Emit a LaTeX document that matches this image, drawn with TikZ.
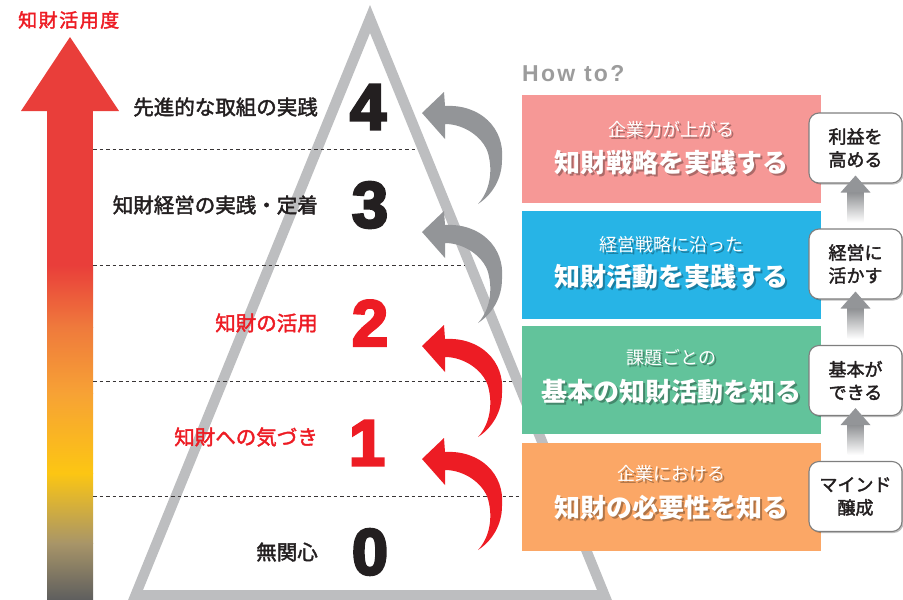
\documentclass[tikz,border=0pt]{standalone}
\usepackage{fontspec}
\setmainfont{Noto Sans CJK JP}
\newfontfamily\jpmed[FakeBold=2]{Noto Sans CJK JP}
\newfontfamily\jptitle[FakeBold=2,LetterSpace=8]{Noto Sans CJK JP}
\newfontfamily\numfont[BoldFeatures={FakeBold=4}]{Liberation Sans}
\newfontfamily\howfont[LetterSpace=10]{Liberation Sans}
\usetikzlibrary{calc,shadows}
\definecolor{tri}{HTML}{BDBEC0}
\definecolor{redA}{HTML}{ED1C24}
\definecolor{darkT}{HTML}{231F20}
\definecolor{arrG}{HTML}{939598}
\definecolor{pinkB}{HTML}{F69896}
\definecolor{blueB}{HTML}{27B4E6}
\definecolor{greenB}{HTML}{62C39B}
\definecolor{orangeB}{HTML}{FBA766}
\definecolor{howG}{HTML}{9C9C9C}
\definecolor{boxline}{HTML}{7F7F7F}
\definecolor{gA}{HTML}{E93E3A}
\definecolor{gB}{HTML}{EF7A3C}
\definecolor{gC}{HTML}{F7A235}
\definecolor{gD}{HTML}{FCC613}
\definecolor{gE}{HTML}{A89568}
\definecolor{gF}{HTML}{5E5E5E}
\newcommand\fsz[1]{\fontsize{#1}{#1}\selectfont}
\newcommand\curvedarrow[3]{%
  \begin{scope}[shift={(#2,#3)}]
    \fill[#1] (0,0) -- (22,-21) -- (23,-7)
      .. controls (58,-9) and (83,15) .. (80,47)
      .. controls (80,66) and (70,82) .. (56,91)
      .. controls (68,78) and (71,58) .. (66,40)
      .. controls (61,24) and (42,11) .. (23,11)
      -- (23,26) -- cycle;
  \end{scope}}
\newcommand\boxtext[4]{% name, x, y, content
  \node[btxt, text=black, opacity=0.3, xshift=1.6pt, yshift=-1.6pt] at (#2,#3) {#4};
  \node[btxt, text=white] (#1) at (#2,#3) {#4};}
\tikzset{
  lvl/.style={anchor=east, inner sep=0, font=\jpmed\fsz{20.5}},
  num/.style={inner sep=0, font=\numfont\bfseries\fsz{65}},
  btxt/.style={inner sep=0},
  bbox/.style={minimum width=299pt, minimum height=108pt, inner sep=0},
  sbox/.style={draw=boxline, fill=white, rounded corners=10pt, minimum width=93pt,
    minimum height=70pt, line width=1.1pt, align=center, inner sep=0,
    font=\jpmed\fontsize{18}{23}\selectfont, text=darkT,
    drop shadow={shadow xshift=1.5pt, shadow yshift=-1.5pt, fill=black, opacity=0.25}},
  dline/.style={line width=1pt, draw=darkT!90, dash pattern=on 3.5pt off 3pt},
}
\begin{document}
\begin{tikzpicture}[x=1pt,y=-1pt]
\useasboundingbox (0,0) rectangle (903,600);
% ---- gradient arrow
\fill[gA] (70,37) -- (119,111) -- (21,111) -- cycle;
\fill[gA] (47,110.5) rectangle (93,265.5);
\shade[top color=gA, bottom color=gB] (47,265) rectangle (93,327.5);
\shade[top color=gB, bottom color=gC] (47,327) rectangle (93,393.5);
\shade[top color=gC, bottom color=gD] (47,393) rectangle (93,473.5);
\shade[top color=gD, bottom color=gE] (47,473) rectangle (93,543.5);
\shade[top color=gE, bottom color=gF] (47,543) rectangle (93,600);
\node[inner sep=0, anchor=west, text=redA, font=\jptitle\fsz{19}] (title) at (18,20) {知財活用度};
% ---- triangle ring
\begin{scope}
  \clip (0,0) rectangle (903,600);
  \fill[tri, even odd rule] (370,5) -- (124,610) -- (616,610) -- cycle
     (370,33) -- (143,590) -- (597,590) -- cycle;
\end{scope}
% ---- dashed level lines
\foreach \yy/\nm in {149/d4,265/d3,381/d2,496/d1}{
  \coordinate (\nm a) at (93,\yy);
  \coordinate (\nm b) at ({370+0.4075*(\yy-33)},\yy);
  \draw[dline] (\nm a) -- (\nm b);
}
% ---- curved arrows
\curvedarrow{arrG}{422}{113}
\curvedarrow{arrG}{422}{232}
\curvedarrow{redA}{422}{346}
\curvedarrow{redA}{422}{459}
% ---- levels
\node[num, text=darkT] (n4) at (368,107) {4};
\node[num, text=darkT] (n3) at (370,205) {3};
\node[num, text=redA] (n2) at (370,323) {2};
\node[num, text=redA] (n1) at (367,443) {1};
\node[num, text=darkT] (n0) at (370,552) {0};
\node[lvl, text=darkT] (l4) at (318,107) {先進的な取組の実践};
\node[lvl, text=darkT] (l3) at (318,205) {知財経営の実践・定着};
\node[lvl, text=redA] (l2) at (318,323) {知財の活用};
\node[lvl, text=redA] (l1) at (318,437) {知財への気づき};
\node[lvl, text=darkT] (l0) at (318,552) {無関心};
% ---- How to
\node[inner sep=0, anchor=west, text=howG, font=\howfont\bfseries\fsz{23}] (how) at (522,74) {How to?};
% ---- big boxes
\node[bbox, fill=pinkB] (b4) at (671.5,148.5) {};
\node[bbox, fill=blueB] (b3) at (671.5,264.5) {};
\node[bbox, fill=greenB] (b2) at (671.5,380) {};
\node[bbox, fill=orangeB] (b1) at (671.5,496.5) {};
\boxtext{s4}{671.5}{130}{\fsz{18}企業力が上がる}
\boxtext{t4}{671.5}{163}{\bfseries\fsz{26}知財戦略を実践する}
\boxtext{s3}{671.5}{245}{\fsz{18}経営戦略に沿った}
\boxtext{t3}{671.5}{277}{\bfseries\fsz{26}知財活動を実践する}
\boxtext{s2}{671.5}{358}{\fsz{18}課題ごとの}
\boxtext{t2}{671.5}{392}{\bfseries\fsz{26}基本の知財活動を知る}
\boxtext{s1}{671.5}{474}{\fsz{18}企業における}
\boxtext{t1}{671.5}{508}{\bfseries\fsz{26}知財の必要性を知る}
% ---- small boxes
\node[sbox] (c4) at (855.5,148) {利益を\\高める};
\node[sbox] (c3) at (855.5,264) {経営に\\活かす};
\node[sbox] (c2) at (855.5,380.5) {基本が\\できる};
\node[sbox] (c1) at (855.5,496.5) {マインド\\醸成};
% ---- small up arrows
\foreach \lo/\hi in {c1/c2,c2/c3,c3/c4}{
  \shade[top color=arrG!95!black, bottom color=white]
    ([xshift=-8pt,yshift=-8pt]\hi.south) rectangle ([xshift=8pt,yshift=6pt]\lo.north);
  \fill[arrG] ([yshift=8pt]\hi.south) -- ([xshift=15pt,yshift=-9pt]\hi.south)
     -- ([xshift=-15pt,yshift=-9pt]\hi.south) -- cycle;
}
\end{tikzpicture}
\end{document}
